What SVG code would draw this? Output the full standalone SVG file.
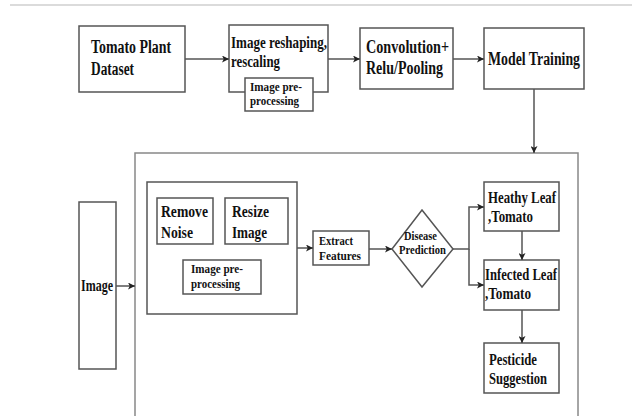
<svg xmlns="http://www.w3.org/2000/svg" width="632" height="416" viewBox="0 0 632 416">
<defs>
<marker id="ah" viewBox="0 0 8 8" refX="8" refY="4" markerWidth="7" markerHeight="7" markerUnits="userSpaceOnUse" orient="auto">
<path d="M0,0 L8,4 L0,8 L2,4 Z" fill="#222"/>
</marker>
</defs>
<style>
.bx{fill:#fff;stroke:#555;stroke-width:1.5}
.big{fill:none;stroke:#888;stroke-width:1.5}
.t{font-family:'Liberation Serif','Times New Roman',serif;font-weight:bold;fill:#111}
.l{font-size:18.5px}
.m{font-size:16.5px}
.s{font-size:13.5px}
.c{fill:none;stroke:#555;stroke-width:1.5}
</style>
<rect width="632" height="416" fill="#fff"/>
<line x1="10" y1="5" x2="632" y2="5" stroke="#cfcfcf" stroke-width="1.5"/>
<g id="container"><rect class="big" x="135" y="153" width="443" height="270"/></g>
<g id="tomato"><rect class="bx" x="79" y="26" width="106" height="66"/>
<text class="t l" x="91" y="53" textLength="80" lengthAdjust="spacingAndGlyphs">Tomato Plant</text>
<text class="t l" x="91" y="75" textLength="43" lengthAdjust="spacingAndGlyphs">Dataset</text></g>
<g id="reshape"><rect class="bx" x="229" y="25" width="99" height="67"/>
<text class="t m" x="231" y="48" textLength="96" lengthAdjust="spacingAndGlyphs">Image reshaping,</text>
<text class="t m" x="231" y="67" textLength="49" lengthAdjust="spacingAndGlyphs">rescaling</text></g>
<g id="prep1"><rect class="bx" x="245" y="78" width="68" height="33"/>
<text class="t s" x="250" y="91" textLength="52" lengthAdjust="spacingAndGlyphs">Image pre-</text>
<text class="t s" x="250" y="105" textLength="49" lengthAdjust="spacingAndGlyphs">processing</text></g>
<g id="conv"><rect class="bx" x="360" y="28" width="93" height="61"/>
<text class="t l" x="366" y="53" textLength="83" lengthAdjust="spacingAndGlyphs">Convolution+</text>
<text class="t l" x="366" y="74" textLength="77" lengthAdjust="spacingAndGlyphs">Relu/Pooling</text></g>
<g id="model"><rect class="bx" x="484" y="28" width="100" height="61"/>
<text class="t l" x="488" y="65" textLength="92" lengthAdjust="spacingAndGlyphs">Model Training</text></g>
<g id="image"><rect class="bx" x="79" y="202" width="37" height="167"/>
<text class="t m" x="81" y="291" textLength="32" lengthAdjust="spacingAndGlyphs">Image</text></g>
<g id="prepbox"><rect class="bx" x="147" y="182" width="150" height="132"/></g>
<g id="noise"><rect class="bx" x="157" y="198" width="56" height="46"/>
<text class="t m" x="161" y="217" textLength="47" lengthAdjust="spacingAndGlyphs">Remove</text>
<text class="t m" x="161" y="238" textLength="32" lengthAdjust="spacingAndGlyphs">Noise</text></g>
<g id="resize"><rect class="bx" x="225" y="198" width="63" height="46"/>
<text class="t m" x="232" y="217" textLength="37" lengthAdjust="spacingAndGlyphs">Resize</text>
<text class="t m" x="232" y="238" textLength="35" lengthAdjust="spacingAndGlyphs">Image</text></g>
<g id="prep2"><rect class="bx" x="183" y="260" width="78" height="34"/>
<text class="t s" x="191" y="273" textLength="52" lengthAdjust="spacingAndGlyphs">Image pre-</text>
<text class="t s" x="191" y="288" textLength="49" lengthAdjust="spacingAndGlyphs">processing</text></g>
<g id="extract"><rect class="bx" x="313" y="231" width="56" height="34"/>
<text class="t s" x="319" y="245" textLength="34" lengthAdjust="spacingAndGlyphs">Extract</text>
<text class="t s" x="319" y="260" textLength="42" lengthAdjust="spacingAndGlyphs">Features</text></g>
<g id="disease"><polygon class="bx" points="422,210 453,249 422,287 392,249"/>
<text class="t s" x="404" y="240" textLength="33" lengthAdjust="spacingAndGlyphs">Disease</text>
<text class="t s" x="399" y="254" textLength="47" lengthAdjust="spacingAndGlyphs">Prediction</text></g>
<g id="healthy"><rect class="bx" x="484" y="182" width="75" height="49"/>
<text class="t m" x="488" y="203" textLength="68" lengthAdjust="spacingAndGlyphs">Heathy Leaf</text>
<text class="t m" x="488" y="222" textLength="45" lengthAdjust="spacingAndGlyphs">,Tomato</text></g>
<g id="infected"><rect class="bx" x="484" y="260" width="75" height="50"/>
<text class="t m" x="485" y="280" textLength="72" lengthAdjust="spacingAndGlyphs">Infected Leaf</text>
<text class="t m" x="485" y="299" textLength="46" lengthAdjust="spacingAndGlyphs">,Tomato</text></g>
<g id="pesticide"><rect class="bx" x="484" y="343" width="75" height="50"/>
<text class="t m" x="489" y="365" textLength="48" lengthAdjust="spacingAndGlyphs">Pesticide</text>
<text class="t m" x="489" y="384" textLength="58" lengthAdjust="spacingAndGlyphs">Suggestion</text></g>
<g id="connectors">
<line class="c" x1="185" y1="59" x2="229" y2="59" marker-end="url(#ah)"/>
<line class="c" x1="328" y1="59" x2="360" y2="59" marker-end="url(#ah)"/>
<line class="c" x1="453" y1="59" x2="484" y2="59" marker-end="url(#ah)"/>
<line class="c" x1="534" y1="89" x2="534" y2="153" marker-end="url(#ah)"/>
<line class="c" x1="116" y1="286" x2="135" y2="286" marker-end="url(#ah)"/>
<line class="c" x1="297" y1="248" x2="313" y2="248" marker-end="url(#ah)"/>
<line class="c" x1="369" y1="249" x2="392" y2="249" marker-end="url(#ah)"/>
<polyline class="c" points="453,249 469,249 469,207 484,207" marker-end="url(#ah)"/>
<polyline class="c" points="469,249 469,285 484,285" marker-end="url(#ah)"/>
<line class="c" x1="522" y1="231" x2="522" y2="260" marker-end="url(#ah)"/>
<line class="c" x1="522" y1="310" x2="522" y2="343" marker-end="url(#ah)"/>
</g>
</svg>
